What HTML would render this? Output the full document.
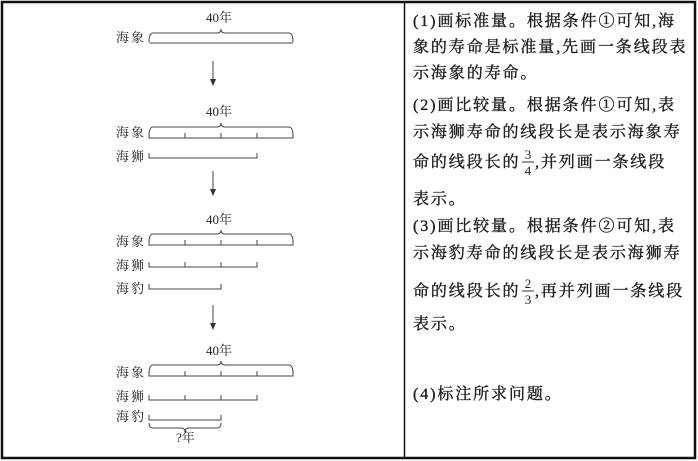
<!DOCTYPE html>
<html><head><meta charset="utf-8"><style>
html,body{margin:0;padding:0;background:#fff;}
svg{display:block;}
text{font-family:"Liberation Serif","Noto Serif CJK SC","Noto Sans CJK SC",serif;fill:#222;}
.r{font-family:"Liberation Sans","Noto Sans CJK SC",sans-serif;font-size:16px;fill:#111;letter-spacing:1.9px;stroke:#111;stroke-width:0.35px;}
.l{font-size:13px;fill:#333;font-family:"Liberation Serif","Noto Serif CJK SC",serif;letter-spacing:2px;}
</style></head><body>
<svg width="698" height="461" viewBox="0 0 698 461" xmlns="http://www.w3.org/2000/svg">
<rect x="2" y="2" width="693" height="456" fill="none" stroke="#111" stroke-width="2.5"/>
<line x1="404.5" y1="2" x2="404.5" y2="458" stroke="#111" stroke-width="1.5"/>
<g fill="none" stroke="#444" stroke-width="1">
<path d="M149,42 Q149,33 153,33 H217 Q221,33 221,29 Q221,33 225,33 H289 Q293,33 293,42"/>
<line x1="149" y1="43" x2="293" y2="43"/>
<line x1="213" y1="61" x2="213" y2="80"/>
<line x1="213" y1="171" x2="213" y2="190"/>
<line x1="213" y1="305" x2="213" y2="324"/>
<path d="M149,136 Q149,127 153,127 H217 Q221,127 221,123 Q221,127 225,127 H289 Q293,127 293,136"/>
<path d="M149,133 V138 H293 V133 M185,133 V138 M221,133 V138 M257,133 V138"/>
<path d="M149,153 V158 H257 V153"/>
<path d="M149,243 Q149,234 153,234 H217 Q221,234 221,230 Q221,234 225,234 H289 Q293,234 293,243"/>
<path d="M149,240 V245 H293 V240 M185,240 V245 M221,240 V245 M257,240 V245"/>
<path d="M149,262 V267 H257 V262 M185,262 V267 M221,262 V267"/>
<path d="M149,284 V289 H221 V284"/>
<path d="M149,374 Q149,365 153,365 H217 Q221,365 221,361 Q221,365 225,365 H289 Q293,365 293,374"/>
<path d="M149,371 V376 H293 V371 M185,371 V376 M221,371 V376 M257,371 V376"/>
<path d="M149,395 V400 H257 V395 M185,395 V400 M221,395 V400"/>
<path d="M149,415 V420 H221 V415"/>
<path d="M149,423 Q149,428 153,428 H181 Q185,428 185,432 Q185,428 189,428 H217 Q221,428 221,423"/>
</g>
<g fill="#333">
<path d="M210,79 L216,79 L213,86 Z"/>
<path d="M210,189 L216,189 L213,196 Z"/>
<path d="M210,323 L216,323 L213,330 Z"/>
</g>
<g class="l">
<text x="206" y="22" style="letter-spacing:0">40年</text>
<text x="116" y="42">海象</text>
<text x="206" y="116" style="letter-spacing:0">40年</text>
<text x="116" y="137">海象</text>
<text x="116" y="161">海狮</text>
<text x="206" y="224" style="letter-spacing:0">40年</text>
<text x="116" y="246">海象</text>
<text x="116" y="270">海狮</text>
<text x="116" y="293">海豹</text>
<text x="206" y="355" style="letter-spacing:0">40年</text>
<text x="116" y="377">海象</text>
<text x="116" y="401">海狮</text>
<text x="116" y="421">海豹</text>
<text x="176" y="442" style="letter-spacing:0">?年</text>
</g>
<g class="r">
<text x="413" y="26">(1)画标准量。根据条件①可知,海</text>
<text x="413" y="52">象的寿命是标准量,先画一条线段表</text>
<text x="413" y="78">示海象的寿命。</text>
<text x="413" y="110">(2)画比较量。根据条件①可知,表</text>
<text x="413" y="137">示海狮寿命的线段长是表示海象寿</text>
<text x="413" y="167">命的线段长的</text>
<text x="535" y="167">,并列画一条线段</text>
<text x="413" y="204">表示。</text>
<text x="413" y="231">(3)画比较量。根据条件②可知,表</text>
<text x="413" y="258">示海豹寿命的线段长是表示海狮寿</text>
<text x="413" y="296">命的线段长的</text>
<text x="535" y="296">,再并列画一条线段</text>
<text x="413" y="329">表示。</text>
<text x="413" y="399">(4)标注所求问题。</text>
</g>
<g style="font-size:13px;fill:#333;font-family:'Liberation Serif',serif">
<text x="528" y="159" text-anchor="middle">3</text>
<text x="528" y="175" text-anchor="middle">4</text>
<text x="528" y="288" text-anchor="middle">2</text>
<text x="528" y="304" text-anchor="middle">3</text>
</g>
<line x1="522" y1="162" x2="534" y2="162" stroke="#333" stroke-width="1"/>
<line x1="522" y1="291" x2="534" y2="291" stroke="#333" stroke-width="1"/>
</svg>
</body></html>
